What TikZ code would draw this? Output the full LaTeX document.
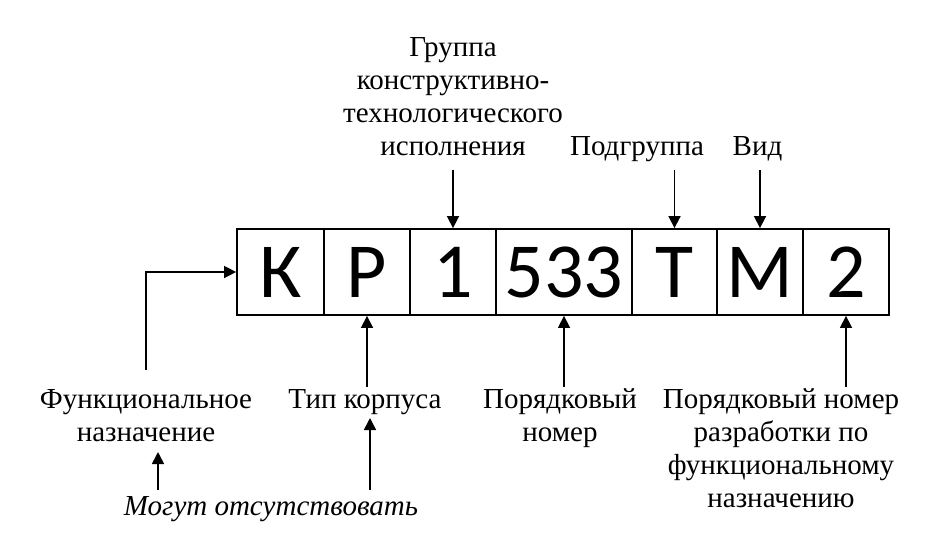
\documentclass[tikz,border=0pt]{standalone}
\usepackage{fontspec}
\setmainfont{Liberation Serif}
\newfontfamily\boxfont{Carlito}
\usetikzlibrary{arrows.meta}
\begin{document}
\begin{tikzpicture}[x=1pt,y=-1pt,
  cell/.style={draw, line width=1.8pt, minimum height=86pt, inner sep=0pt,
    font=\boxfont\fontsize{78}{80}\selectfont},
  lab/.style={align=center, inner sep=0pt, anchor=base,
    font=\fontsize{29}{33}\selectfont},
  arr/.style={line width=1.6pt, -{Triangle[length=12pt,width=12pt]}}]
\useasboundingbox (0,0) rectangle (939,549);
% boxes
\node[cell, minimum width=87pt] (K) at (280.5,272) {К};
\node[cell, minimum width=86pt] (P) at (367,272) {Р};
\node[cell, minimum width=86pt] (N1) at (453,272) {1};
\node[cell, minimum width=136pt] (N533) at (564,272) {533};
\node[cell, minimum width=85pt] (T) at (674.5,272) {Т};
\node[cell, minimum width=86pt] (M) at (760,272) {М};
\node[cell, minimum width=86pt] (N2) at (846,272) {2};
% labels (base anchor = baseline of the last line)
\node[lab] (grp) at (453,155) {Группа\\конструктивно-\\технологического\\исполнения};
\node[lab] (pgr) at (637,155) {Подгруппа};
\node[lab] (vid) at (757.5,155) {Вид};
\node[lab] (fun) at (146,441.5) {Функциональное\\назначение};
\node[lab] (tip) at (365,408.5) {Тип корпуса};
\node[lab] (por) at (560,441.5) {Порядковый\\номер};
\node[lab] (prn) at (781,507.5) {Порядковый номер\\разработки по\\функциональному\\назначению};
\node[lab, font=\itshape\fontsize{29}{33}\selectfont] (mog) at (271,515) {Могут отсутствовать};
% connector ends
\coordinate (cf) at (146,370);
\coordinate (cP) at (367,387);
\coordinate (c533) at (564,387);
\coordinate (c2) at (846,387);
\coordinate (c1) at (453,170);
\coordinate (cT) at (674.5,170);
\coordinate (cM) at (760,170);
\coordinate (m1) at (158,490);
\coordinate (m1e) at (158,452);
\coordinate (m2) at (370,490);
\coordinate (m2e) at (370,418);
% connectors
\draw[arr] (cf) |- (K.west);
\draw[arr] (cP) -- (P.south);
\draw[arr] (c533) -- (N533.south);
\draw[arr] (c2) -- (N2.south);
\draw[arr] (c1) -- (N1.north);
\draw[arr] (cT) -- (T.north);
\draw[arr] (cM) -- (M.north);
\draw[arr] (m1) -- (m1e);
\draw[arr] (m2) -- (m2e);
\end{tikzpicture}
\end{document}
